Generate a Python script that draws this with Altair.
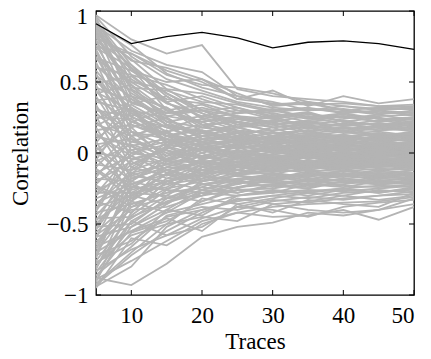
import altair as alt
import pandas as pd

traces = [5, 10, 15, 20, 25, 30, 35, 40, 45, 50]

# correct key hypothesis (black)
key_line = [0.91, 0.77, 0.82, 0.85, 0.81, 0.74, 0.78, 0.79, 0.77, 0.73]

# wrong key hypotheses (grey)
other_lines = [
    [0.97, 0.80, 0.70, 0.76, 0.45, 0.40, 0.38, 0.36, 0.33, 0.34],
    [0.90, 0.72, 0.62, 0.57, 0.40, 0.36, 0.30, 0.33, 0.30, 0.28],
    [0.85, 0.65, 0.60, 0.52, 0.42, 0.33, 0.35, 0.30, 0.27, 0.30],
    [0.92, 0.58, 0.50, 0.52, 0.38, 0.44, 0.33, 0.40, 0.35, 0.38],
    [0.75, 0.70, 0.55, 0.48, 0.46, 0.42, 0.36, 0.30, 0.32, 0.33],
    [-0.88, -0.93, -0.78, -0.59, -0.52, -0.49, -0.42, -0.44, -0.40, -0.36],
    [-0.95, -0.60, -0.65, -0.50, -0.42, -0.45, -0.44, -0.40, -0.47, -0.38],
    [-0.80, -0.48, -0.58, -0.52, -0.38, -0.40, -0.45, -0.38, -0.35, -0.33],
    [-0.92, -0.70, -0.50, -0.45, -0.48, -0.36, -0.40, -0.42, -0.40, -0.32],
    [-0.70, -0.55, -0.46, -0.55, -0.36, -0.42, -0.33, -0.36, -0.38, -0.28],
    [0.95, 0.50, 0.35, 0.28, 0.20, 0.22, 0.15, 0.18, 0.12, 0.15],
    [0.93, 0.62, 0.42, 0.30, 0.32, 0.25, 0.28, 0.22, 0.25, 0.20],
    [0.90, 0.40, 0.20, 0.15, 0.08, 0.12, 0.05, 0.10, 0.06, 0.08],
    [0.88, 0.55, 0.48, 0.38, 0.30, 0.28, 0.24, 0.26, 0.22, 0.24],
    [0.86, 0.30, 0.25, 0.10, 0.14, 0.02, 0.06, -0.02, 0.04, 0.01],
    [0.84, 0.66, 0.45, 0.42, 0.35, 0.30, 0.32, 0.28, 0.30, 0.26],
    [0.82, 0.45, 0.30, 0.22, 0.25, 0.18, 0.20, 0.15, 0.17, 0.18],
    [0.80, 0.20, 0.12, 0.05, -0.02, 0.04, 0.00, 0.03, -0.01, 0.02],
    [0.78, 0.52, 0.38, 0.35, 0.28, 0.31, 0.25, 0.27, 0.24, 0.22],
    [0.76, 0.35, 0.40, 0.25, 0.18, 0.12, 0.16, 0.10, 0.14, 0.11],
    [0.74, 0.60, 0.30, 0.20, 0.22, 0.15, 0.10, 0.13, 0.09, 0.12],
    [0.72, 0.15, 0.05, 0.12, 0.08, 0.10, 0.04, 0.07, 0.03, 0.05],
    [0.70, 0.42, 0.28, 0.32, 0.26, 0.20, 0.22, 0.19, 0.21, 0.17],
    [0.68, 0.25, 0.18, 0.08, 0.12, 0.06, 0.09, 0.04, 0.07, 0.03],
    [0.66, 0.50, 0.45, 0.30, 0.20, 0.26, 0.18, 0.21, 0.16, 0.19],
    [0.64, 0.10, -0.05, 0.02, -0.04, 0.01, -0.03, 0.00, -0.02, -0.01],
    [0.62, 0.38, 0.22, 0.18, 0.15, 0.08, 0.12, 0.09, 0.11, 0.08],
    [0.60, 0.55, 0.35, 0.26, 0.30, 0.24, 0.20, 0.23, 0.19, 0.21],
    [0.58, 0.28, 0.15, 0.20, 0.10, 0.14, 0.08, 0.12, 0.10, 0.13],
    [0.56, 0.05, 0.10, -0.05, 0.02, -0.06, -0.02, -0.04, -0.01, -0.03],
    [0.54, 0.40, 0.32, 0.15, 0.18, 0.20, 0.14, 0.16, 0.12, 0.14],
    [0.52, 0.18, 0.25, 0.10, 0.05, 0.09, 0.02, 0.06, 0.04, 0.06],
    [0.50, 0.32, 0.08, 0.14, 0.20, 0.16, 0.18, 0.14, 0.15, 0.12],
    [0.48, -0.05, 0.02, -0.08, -0.06, -0.02, -0.07, -0.05, -0.08, -0.06],
    [0.46, 0.36, 0.26, 0.22, 0.12, 0.18, 0.10, 0.13, 0.08, 0.10],
    [0.44, 0.12, 0.20, 0.06, 0.10, 0.03, 0.07, 0.01, 0.05, 0.02],
    [0.42, 0.48, 0.30, 0.34, 0.25, 0.22, 0.26, 0.20, 0.23, 0.20],
    [0.40, 0.02, -0.08, 0.00, -0.10, -0.05, -0.08, -0.04, -0.07, -0.05],
    [0.38, 0.22, 0.14, 0.04, 0.08, 0.11, 0.06, 0.08, 0.05, 0.07],
    [0.36, 0.30, 0.18, 0.24, 0.16, 0.10, 0.13, 0.11, 0.14, 0.10],
    [0.34, -0.10, 0.05, -0.02, 0.04, -0.03, 0.01, -0.02, 0.00, -0.01],
    [0.32, 0.15, -0.02, 0.08, -0.04, 0.05, 0.00, 0.03, 0.01, 0.04],
    [0.30, 0.26, 0.12, 0.16, 0.10, 0.06, 0.11, 0.07, 0.09, 0.06],
    [0.28, 0.08, 0.16, -0.04, 0.06, 0.00, 0.04, 0.02, 0.03, 0.00],
    [0.26, -0.18, -0.10, -0.12, -0.06, -0.10, -0.05, -0.08, -0.06, -0.09],
    [0.24, 0.34, 0.20, 0.12, 0.14, 0.08, 0.10, 0.06, 0.08, 0.05],
    [0.22, 0.00, 0.06, 0.02, -0.02, 0.03, -0.01, 0.01, -0.02, 0.00],
    [0.20, 0.12, -0.06, -0.10, -0.04, -0.08, -0.03, -0.06, -0.04, -0.07],
    [0.18, -0.22, -0.15, -0.05, -0.12, -0.06, -0.09, -0.05, -0.08, -0.04],
    [0.16, 0.20, 0.10, 0.06, 0.09, 0.04, 0.07, 0.05, 0.06, 0.08],
    [0.14, -0.08, 0.03, 0.10, 0.03, 0.06, 0.02, 0.04, 0.01, 0.03],
    [0.12, 0.05, -0.12, -0.06, -0.08, -0.04, -0.06, -0.03, -0.05, -0.02],
    [0.10, 0.28, 0.15, 0.04, 0.00, 0.05, 0.03, 0.06, 0.02, 0.04],
    [0.08, -0.30, -0.20, -0.15, -0.10, -0.12, -0.08, -0.11, -0.07, -0.09],
    [0.06, 0.10, 0.00, -0.03, 0.05, 0.01, 0.03, -0.01, 0.02, 0.01],
    [0.04, -0.15, 0.08, 0.02, -0.02, -0.05, -0.01, -0.03, 0.00, -0.02],
    [0.02, 0.18, -0.05, 0.06, 0.08, 0.02, 0.05, 0.03, 0.04, 0.02],
    [0.00, -0.04, -0.08, -0.12, -0.06, -0.09, -0.05, -0.07, -0.04, -0.06],
    [-0.02, 0.22, 0.12, 0.08, 0.04, 0.07, 0.02, 0.05, 0.03, 0.05],
    [-0.04, -0.25, -0.10, -0.02, -0.07, -0.03, -0.06, -0.02, -0.05, -0.03],
    [-0.06, 0.06, -0.02, 0.04, -0.01, 0.02, -0.02, 0.01, -0.01, 0.00],
    [-0.08, -0.12, 0.05, -0.08, 0.02, -0.04, 0.00, -0.03, -0.01, -0.02],
    [-0.10, 0.15, 0.10, 0.02, 0.06, 0.00, 0.04, 0.01, 0.03, 0.00],
    [-0.12, -0.32, -0.22, -0.18, -0.12, -0.15, -0.10, -0.12, -0.09, -0.11],
    [-0.14, -0.02, -0.14, -0.06, -0.10, -0.05, -0.08, -0.04, -0.07, -0.05],
    [-0.16, 0.08, 0.02, -0.10, -0.03, -0.07, -0.02, -0.05, -0.03, -0.06],
    [-0.18, -0.20, -0.05, -0.14, -0.08, -0.11, -0.06, -0.09, -0.07, -0.08],
    [-0.20, -0.06, -0.18, -0.08, -0.14, -0.08, -0.11, -0.07, -0.09, -0.07],
    [-0.22, 0.02, 0.08, 0.05, 0.00, 0.04, 0.01, 0.03, 0.00, 0.02],
    [-0.24, -0.38, -0.25, -0.20, -0.16, -0.18, -0.13, -0.15, -0.12, -0.14],
    [-0.26, -0.16, -0.08, -0.02, -0.06, -0.01, -0.04, -0.02, -0.03, -0.01],
    [-0.28, -0.28, -0.30, -0.16, -0.20, -0.14, -0.17, -0.12, -0.15, -0.12],
    [-0.30, -0.08, 0.04, -0.04, 0.02, -0.03, 0.00, -0.02, 0.01, -0.01],
    [-0.32, -0.22, -0.12, -0.20, -0.10, -0.13, -0.09, -0.11, -0.08, -0.10],
    [-0.34, -0.42, -0.20, -0.12, -0.15, -0.09, -0.12, -0.08, -0.10, -0.08],
    [-0.36, -0.14, -0.22, -0.08, -0.12, -0.06, -0.10, -0.06, -0.08, -0.05],
    [-0.38, -0.30, -0.15, -0.22, -0.18, -0.20, -0.15, -0.17, -0.14, -0.16],
    [-0.40, 0.05, -0.06, 0.02, -0.04, 0.01, -0.02, 0.00, -0.01, 0.01],
    [-0.42, -0.36, -0.28, -0.18, -0.22, -0.16, -0.19, -0.14, -0.17, -0.14],
    [-0.44, -0.18, -0.10, -0.14, -0.06, -0.10, -0.05, -0.08, -0.06, -0.07],
    [-0.46, -0.45, -0.35, -0.28, -0.24, -0.22, -0.20, -0.21, -0.18, -0.19],
    [-0.48, -0.10, -0.16, -0.06, -0.10, -0.04, -0.07, -0.03, -0.06, -0.04],
    [-0.50, -0.26, -0.20, -0.26, -0.18, -0.15, -0.17, -0.13, -0.15, -0.12],
    [-0.52, -0.50, -0.32, -0.24, -0.28, -0.23, -0.25, -0.20, -0.22, -0.21],
    [-0.54, -0.20, -0.26, -0.10, -0.14, -0.08, -0.11, -0.07, -0.09, -0.06],
    [-0.56, -0.34, -0.18, -0.16, -0.10, -0.12, -0.08, -0.10, -0.07, -0.09],
    [-0.58, -0.40, -0.38, -0.30, -0.26, -0.28, -0.22, -0.24, -0.20, -0.22],
    [-0.60, -0.12, -0.04, -0.08, -0.02, -0.05, -0.01, -0.04, -0.02, -0.03],
    [-0.62, -0.46, -0.30, -0.34, -0.24, -0.19, -0.22, -0.18, -0.20, -0.17],
    [-0.64, -0.28, -0.24, -0.12, -0.16, -0.11, -0.14, -0.10, -0.12, -0.10],
    [-0.66, -0.55, -0.42, -0.36, -0.30, -0.26, -0.28, -0.25, -0.23, -0.24],
    [-0.68, -0.24, -0.12, -0.18, -0.08, -0.12, -0.06, -0.09, -0.05, -0.08],
    [-0.70, -0.38, -0.32, -0.22, -0.20, -0.24, -0.18, -0.20, -0.17, -0.18],
    [-0.72, -0.62, -0.45, -0.40, -0.34, -0.30, -0.32, -0.28, -0.27, -0.26],
    [-0.74, -0.16, -0.20, -0.14, -0.12, -0.07, -0.10, -0.06, -0.08, -0.05],
    [-0.76, -0.44, -0.26, -0.28, -0.22, -0.17, -0.20, -0.16, -0.18, -0.15],
    [-0.78, -0.58, -0.50, -0.32, -0.36, -0.32, -0.28, -0.30, -0.26, -0.28],
    [-0.82, -0.30, -0.36, -0.20, -0.16, -0.19, -0.14, -0.16, -0.13, -0.15],
    [-0.84, -0.52, -0.40, -0.44, -0.30, -0.27, -0.30, -0.26, -0.28, -0.24],
    [-0.86, -0.66, -0.44, -0.38, -0.40, -0.34, -0.31, -0.33, -0.30, -0.29],
    [-0.90, -0.48, -0.34, -0.26, -0.28, -0.22, -0.24, -0.20, -0.22, -0.20],
    [-0.93, -0.72, -0.55, -0.42, -0.32, -0.36, -0.34, -0.30, -0.33, -0.30],
    [0.94, 0.35, 0.28, 0.30, 0.26, 0.24, 0.27, 0.25, 0.26, 0.27],
    [0.89, 0.60, 0.40, 0.24, 0.28, 0.30, 0.25, 0.28, 0.24, 0.25],
    [0.83, 0.48, 0.22, 0.26, 0.22, 0.27, 0.22, 0.24, 0.27, 0.23],
    [0.79, 0.62, 0.36, 0.40, 0.32, 0.26, 0.29, 0.22, 0.20, 0.22],
    [0.73, 0.26, 0.32, 0.18, 0.24, 0.20, 0.23, 0.26, 0.22, 0.25],
    [0.67, 0.58, 0.42, 0.28, 0.18, 0.23, 0.19, 0.17, 0.19, 0.16],
    [0.61, 0.44, 0.26, 0.30, 0.22, 0.18, 0.21, 0.19, 0.21, 0.19],
    [0.55, 0.22, 0.30, 0.22, 0.26, 0.21, 0.17, 0.20, 0.18, 0.20],
    [0.49, 0.54, 0.36, 0.20, 0.16, 0.14, 0.16, 0.18, 0.16, 0.17],
    [0.43, 0.30, 0.12, 0.18, 0.14, 0.16, 0.19, 0.16, 0.18, 0.15],
    [0.37, 0.40, 0.24, 0.12, 0.18, 0.12, 0.14, 0.12, 0.13, 0.13],
    [0.31, 0.12, 0.20, 0.14, 0.10, 0.14, 0.12, 0.15, 0.11, 0.12],
    [0.25, 0.24, 0.08, 0.10, 0.12, 0.10, 0.08, 0.10, 0.10, 0.09],
    [0.19, 0.32, 0.18, 0.16, 0.06, 0.09, 0.13, 0.09, 0.12, 0.10],
    [0.13, -0.02, 0.12, 0.00, 0.07, 0.08, 0.06, 0.08, 0.07, 0.07],
    [0.07, 0.38, 0.22, 0.10, 0.11, 0.07, 0.09, 0.11, 0.08, 0.11],
    [0.01, -0.20, -0.02, 0.03, 0.01, 0.03, 0.05, 0.02, 0.05, 0.03],
    [-0.05, 0.30, 0.06, 0.12, 0.08, 0.12, 0.10, 0.07, 0.10, 0.09],
    [-0.11, -0.28, -0.15, -0.04, -0.02, -0.01, 0.02, -0.01, 0.02, 0.00],
    [-0.17, 0.12, 0.14, 0.08, 0.12, 0.09, 0.07, 0.09, 0.06, 0.08],
    [-0.23, -0.34, -0.06, -0.06, -0.04, -0.02, -0.04, -0.01, -0.03, -0.02],
    [-0.29, 0.00, -0.04, 0.06, 0.03, 0.06, 0.03, 0.05, 0.04, 0.06],
    [-0.35, -0.24, -0.26, -0.10, -0.08, -0.06, -0.08, -0.05, -0.04, -0.04],
    [-0.41, -0.04, 0.02, -0.03, 0.05, 0.02, 0.06, 0.04, 0.06, 0.04],
    [-0.47, -0.32, -0.14, -0.20, -0.14, -0.13, -0.12, -0.13, -0.11, -0.12],
    [-0.53, -0.14, -0.08, -0.12, -0.09, -0.11, -0.07, -0.10, -0.10, -0.09],
    [-0.59, -0.52, -0.36, -0.22, -0.25, -0.18, -0.16, -0.15, -0.16, -0.14],
    [-0.65, -0.36, -0.28, -0.24, -0.15, -0.14, -0.18, -0.16, -0.14, -0.17],
    [-0.71, -0.22, -0.32, -0.30, -0.20, -0.21, -0.19, -0.19, -0.21, -0.19],
    [-0.77, -0.64, -0.40, -0.26, -0.21, -0.20, -0.23, -0.22, -0.19, -0.21],
    [-0.81, -0.42, -0.20, -0.16, -0.19, -0.16, -0.15, -0.18, -0.16, -0.18],
    [-0.87, -0.56, -0.48, -0.34, -0.26, -0.25, -0.21, -0.23, -0.24, -0.22],
    [-0.91, -0.34, -0.42, -0.28, -0.30, -0.28, -0.26, -0.27, -0.25, -0.23],
    [-0.94, -0.80, -0.52, -0.40, -0.33, -0.30, -0.27, -0.25, -0.28, -0.25],
    [-0.83, -0.68, -0.58, -0.46, -0.38, -0.33, -0.35, -0.32, -0.30, -0.27],
    [0.96, 0.68, 0.52, 0.44, 0.36, 0.32, 0.30, 0.31, 0.28, 0.29],
    [0.91, 0.76, 0.56, 0.46, 0.40, 0.34, 0.36, 0.33, 0.31, 0.31],
    [0.87, 0.46, 0.44, 0.36, 0.34, 0.29, 0.31, 0.29, 0.29, 0.27],
    [-0.89, -0.76, -0.62, -0.48, -0.42, -0.38, -0.36, -0.35, -0.34, -0.31],
    [0.81, 0.70, 0.58, 0.50, 0.38, 0.35, 0.34, 0.35, 0.33, 0.32],
]

x_ticks = [10, 20, 30, 40, 50]
y_ticks = [-1, -0.5, 0, 0.5, 1]

FONT = "Liberation Serif"
FS = 23
W, H = 318, 284

rows = []
for i, line in enumerate(other_lines):
    for t, v in zip(traces, line):
        rows.append({"line": i, "traces": t, "corr": v})
grey_df = pd.DataFrame(rows)
key_df = pd.DataFrame({"traces": traces, "corr": key_line})

xscale = alt.Scale(domain=[5, 50], nice=False, zero=False)
yscale = alt.Scale(domain=[-1, 1], nice=False)

xaxis = alt.Axis(values=x_ticks, ticks=False, tickSize=0, domain=False, grid=False,
                 labelFont=FONT, labelFontSize=FS, labelColor="black", labelPadding=9,
                 title="Traces", titleFont=FONT, titleFontSize=FS, titleFontWeight="normal",
                 titleColor="black", titlePadding=3)
yaxis = alt.Axis(values=y_ticks[:-1], ticks=False, tickSize=0, domain=False, grid=False, format="~g",
                 labelFont=FONT, labelFontSize=FS, labelColor="black", labelPadding=8,
                 title="Correlation", titleFont=FONT, titleFontSize=FS, titleFontWeight="normal",
                 titleColor="black", titlePadding=14)

grey = alt.Chart(grey_df).mark_line(color="#b4b4b4", strokeWidth=1.8, clip=True).encode(
    x=alt.X("traces:Q", scale=xscale, axis=xaxis),
    y=alt.Y("corr:Q", scale=yscale, axis=yaxis),
    detail="line:N",
)

key = alt.Chart(key_df).mark_line(color="black", strokeWidth=1.3).encode(
    x=alt.X("traces:Q", scale=xscale),
    y=alt.Y("corr:Q", scale=yscale),
)

# top y label drawn as text so it stays inside the canvas
top_lab_df = pd.DataFrame({"t": [y_ticks[-1]], "lab": ["1"]})
top_lab = alt.Chart(top_lab_df).mark_text(
    font=FONT, fontSize=FS, color="black", align="right", baseline="middle", dx=-8, dy=6
).encode(x=alt.value(0), y=alt.Y("t:Q", scale=yscale), text="lab:N")

xt_df = pd.DataFrame({"t": x_ticks})
yt_df = pd.DataFrame({"t": y_ticks})
tick_len = 5
xt_bottom = alt.Chart(xt_df).mark_rule(color="black", strokeWidth=1).encode(
    x=alt.X("t:Q", scale=xscale), y=alt.value(H), y2=alt.value(H - tick_len))
xt_top = alt.Chart(xt_df).mark_rule(color="black", strokeWidth=1).encode(
    x=alt.X("t:Q", scale=xscale), y=alt.value(0), y2=alt.value(tick_len))
yt_left = alt.Chart(yt_df).mark_rule(color="black", strokeWidth=1).encode(
    y=alt.Y("t:Q", scale=yscale), x=alt.value(0), x2=alt.value(tick_len))
yt_right = alt.Chart(yt_df).mark_rule(color="black", strokeWidth=1).encode(
    y=alt.Y("t:Q", scale=yscale), x=alt.value(W), x2=alt.value(W - tick_len))

chart = alt.layer(grey, key, xt_bottom, xt_top, yt_left, yt_right, top_lab).properties(
    width=W, height=H,
    autosize=alt.AutoSizeParams(type="none"),
    padding={"left": 88, "top": 3, "right": 9, "bottom": 60},
).configure(background="white", font=FONT).configure_view(stroke="black", strokeWidth=1.3)

chart.save("out.html", embed_options={"renderer": "svg", "actions": False})
